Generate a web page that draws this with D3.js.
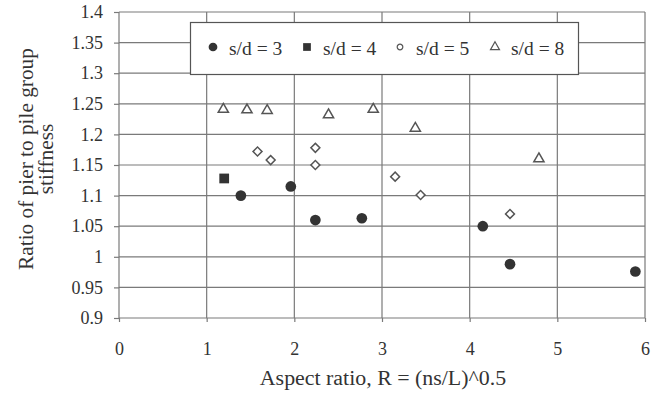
<!DOCTYPE html>
<html>
<head>
<meta charset="utf-8">
<script src="https://cdn.jsdelivr.net/npm/d3@7"></script>
<style>
  body { margin: 0; background: #fff; }
  text { font-family: "Liberation Serif", "DejaVu Serif", serif; fill: #333; }
</style>
</head>
<body>
<div id="chart"></div>
<script>
// values
const seriesNames = ['s/d = 3', 's/d = 4', 's/d = 5', 's/d = 8'];
const sd3X = [1.39, 1.96, 2.24, 2.77, 4.15, 4.46, 5.89];
const sd3Y = [1.100, 1.115, 1.060, 1.063, 1.050, 0.988, 0.976];
const sd4X = [1.20];
const sd4Y = [1.128];
const sd5X = [1.58, 1.73, 2.24, 2.24, 3.15, 3.44, 4.46];
const sd5Y = [1.172, 1.158, 1.178, 1.150, 1.131, 1.101, 1.070];
const sd8X = [1.19, 1.46, 1.69, 2.39, 2.90, 3.38, 4.79];
const sd8Y = [1.241, 1.240, 1.239, 1.232, 1.241, 1.210, 1.160];
const xTicks = [0, 1, 2, 3, 4, 5, 6];
const yTicks = [0.9, 0.95, 1, 1.05, 1.1, 1.15, 1.2, 1.25, 1.3, 1.35, 1.4];

const w = 661;
const h = 394;
const margin = { top: 12, right: 16, bottom: 76, left: 119 };
const serif = '"Liberation Serif", "DejaVu Serif", serif';

const svg = d3.select('#chart')
  .append('svg')
  .attr('width', w)
  .attr('height', h)

const xScale = d3.scaleLinear()
  .domain([0, 6])
  .range([margin.left, w - margin.right])

const yScale = d3.scaleLinear()
  .domain([0.9, 1.4])
  .range([h - margin.bottom, margin.top])

const grid = '#7a7a7a';

// horizontal gridlines
svg.append('g')
  .selectAll('line')
  .data(yTicks)
  .enter()
  .append('line')
  .attr('x1', margin.left)
  .attr('x2', w - margin.right)
  .attr('y1', d => yScale(d))
  .attr('y2', d => yScale(d))
  .attr('stroke', grid)
  .attr('stroke-width', 1.2)

// vertical gridlines
svg.append('g')
  .selectAll('line')
  .data(xTicks)
  .enter()
  .append('line')
  .attr('x1', d => xScale(d))
  .attr('x2', d => xScale(d))
  .attr('y1', margin.top)
  .attr('y2', h - margin.bottom)
  .attr('stroke', grid)
  .attr('stroke-width', 1.2)

const yAxis = d3.axisLeft(yScale)
  .tickValues(yTicks)
  .tickFormat(d => String(+d.toFixed(2)))
  .tickSize(5)
  .tickPadding(11)

const xAxis = d3.axisBottom(xScale)
  .tickValues(xTicks)
  .tickFormat(d3.format('d'))
  .tickSize(4)
  .tickPadding(20)

const gy = svg.append('g')
  .attr('transform', 'translate(' + margin.left + ',0)')
  .call(yAxis)
  .attr('font-family', serif)
  .attr('font-size', 18)
gy.select('.domain').remove()
gy.selectAll('line').attr('stroke', grid).attr('stroke-width', 1.2)
gy.selectAll('text').attr('fill', '#333')

const gx = svg.append('g')
  .attr('transform', 'translate(0,' + (h - margin.bottom) + ')')
  .call(xAxis)
  .attr('font-family', serif)
  .attr('font-size', 18)
gx.select('.domain').remove()
gx.selectAll('line').attr('stroke', grid).attr('stroke-width', 1.2)
gx.selectAll('text').attr('fill', '#333')

// axis titles
svg.append('text')
  .attr('x', 383)
  .attr('y', 385)
  .attr('text-anchor', 'middle')
  .attr('font-size', 21.9)
  .text('Aspect ratio, R = (ns/L)^0.5')

const yTitle = svg.append('text')
  .attr('transform', 'translate(33,159) rotate(-90)')
  .attr('text-anchor', 'middle')
  .attr('font-size', 21.3)
yTitle.append('tspan').attr('x', 0).attr('dy', 0).text('Ratio of pier to pile group')
yTitle.append('tspan').attr('x', 0).attr('dy', 20).text('stiffness')

// markers
const dark = '#333';
const sym = (type, size) => d3.symbol().type(type).size(size)();

const series = [
  { xs: sd3X, ys: sd3Y, path: sym(d3.symbolCircle, 90), rot: 0, fill: dark, stroke: 'none' },
  { xs: sd4X, ys: sd4Y, path: sym(d3.symbolSquare, 95), rot: 0, fill: dark, stroke: 'none' },
  { xs: sd5X, ys: sd5Y, path: sym(d3.symbolSquare, 40), rot: 45, fill: '#fff', stroke: '#555' },
  { xs: sd8X, ys: sd8Y, path: sym(d3.symbolTriangle, 45), rot: 0, fill: '#fff', stroke: '#555' }
];

series.forEach(s => {
  svg.append('g')
    .selectAll('path')
    .data(s.xs.map((x, i) => [x, s.ys[i]]))
    .enter()
    .append('path')
    .attr('d', s.path)
    .attr('transform', d => 'translate(' + xScale(d[0]) + ',' + yScale(d[1]) + ') rotate(' + s.rot + ')')
    .attr('fill', s.fill)
    .attr('stroke', s.stroke)
    .attr('stroke-width', 1.5)
})

// legend
const legend = svg.append('g')
legend.append('rect')
  .attr('x', 190.5)
  .attr('y', 22.5)
  .attr('width', 388)
  .attr('height', 52)
  .attr('fill', '#fff')
  .attr('stroke', '#555')
  .attr('stroke-width', 1.2)

const legendX = [213, 307, 400, 495];
const legendMarks = [
  { path: sym(d3.symbolCircle, 60), fill: dark, stroke: 'none' },
  { path: sym(d3.symbolSquare, 60), fill: dark, stroke: 'none' },
  { path: sym(d3.symbolCircle, 25), fill: '#fff', stroke: '#555' },
  { path: sym(d3.symbolTriangle, 35), fill: '#fff', stroke: '#555' }
];

seriesNames.forEach((name, i) => {
  legend.append('path')
    .attr('d', legendMarks[i].path)
    .attr('transform', 'translate(' + legendX[i] + ',47)')
    .attr('fill', legendMarks[i].fill)
    .attr('stroke', legendMarks[i].stroke)
    .attr('stroke-width', 1.2)
  legend.append('text')
    .attr('x', legendX[i] + 16)
    .attr('y', 55)
    .attr('font-size', 19.5)
    .text(name)
})
</script>
</body>
</html>
